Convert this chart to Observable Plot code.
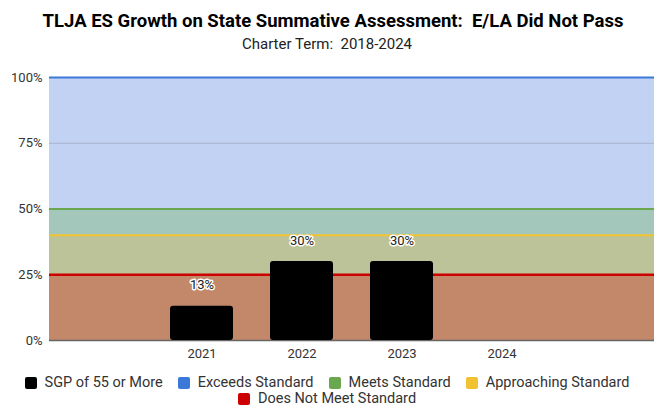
<!DOCTYPE html>
<html>
<head>
<meta charset="utf-8">
<script src="https://cdn.jsdelivr.net/npm/d3@7"></script>
<script src="https://cdn.jsdelivr.net/npm/@observablehq/plot@0.6"></script>
<style>
  body { margin: 0; background: #fff; font-family: Roboto, "Noto Sans", sans-serif; }
  #wrap { width: 654px; }
  #title { text-align: center; font-weight: bold; font-size: 18.5px; color: #000; white-space: pre; height: 22px; padding-top: 10px; padding-left: 12px; line-height: 22px; }
  #subtitle { text-align: center; font-size: 15px; color: #222; white-space: pre; height: 24px; line-height: 24px; }
  #legend { display: flex; flex-wrap: wrap; justify-content: center; column-gap: 15px; row-gap: 0px; font-size: 14.5px; color: #333; width: 646px; margin: 3px auto 0; line-height: 16px; }
  .item { display: flex; align-items: center; gap: 8px; white-space: nowrap; }
  .sw { width: 12px; height: 12px; border-radius: 2px; display: inline-block; }
</style>
</head>
<body>
<div id="wrap">
  <div id="title"></div>
  <div id="subtitle"></div>
  <div id="chart"></div>
  <div id="legend"></div>
</div>
<script>
const title = "TLJA ES Growth on State Summative Assessment:  E/LA Did Not Pass";
const subtitle = "Charter Term:  2018-2024";
const years = [" ", "2021", "2022", "2023", "2024", "  "];
const barYears = ["2021", "2022", "2023"];
const barValues = [13, 30, 30];
const yTicks = [0, 25, 50, 75, 100];
const bandNames = ["Does Not Meet Standard", "Approaching Standard", "Meets Standard", "Exceeds Standard"];
const bandLow = [0, 25, 40, 50];
const bandHigh = [25, 40, 50, 100];
const bandFills = ["#c3876a", "#bcc398", "#a3c8bb", "#c2d2f2"];
const lineValues = [25, 40, 50, 100];
const lineColors = ["#cc0000", "#f1c232", "#6aa84f", "#3c78d8"];
const legendNames = ["SGP of 55 or More", "Exceeds Standard", "Meets Standard", "Approaching Standard", "Does Not Meet Standard"];
const legendColors = ["#000000", "#3c78d8", "#6aa84f", "#f1c232", "#cc0000"];

document.getElementById("title").textContent = title;
document.getElementById("subtitle").textContent = subtitle;

const bars = barYears.map((y, i) => ({year: y, value: barValues[i]}));
const bands = bandNames.map((n, i) => ({name: n, lo: bandLow[i], hi: bandHigh[i], fill: bandFills[i]}));
const lines = lineValues.map((v, i) => ({v, c: lineColors[i]}));

const chart = Plot.plot({
  width: 654,
  height: 316,
  marginTop: 21,
  marginBottom: 32,
  marginLeft: 49,
  marginRight: 0,
  style: {fontFamily: "Roboto, sans-serif", fontSize: "13px", color: "#333", background: "#fff"},
  x: {domain: years, paddingInner: 0.37, paddingOuter: 0.185, label: null, tickSize: 0, tickPadding: 8},
  y: {domain: [0, 100], ticks: yTicks, tickFormat: d => d + "%", label: null, tickSize: 0, tickPadding: 7},
  marks: [
    Plot.rect(bands, {y1: "lo", y2: "hi", fill: "fill"}),
    Plot.ruleY([75], {stroke: "#a5b2cf", strokeWidth: 1}),
    Plot.ruleY([0], {stroke: "#666", strokeWidth: 1.5}),
    Plot.ruleY(lines, {y: "v", stroke: "c", strokeWidth: d => d.v === 25 ? 2.5 : 2}),
    Plot.barY(bars, {x: "year", y: "value", fill: "#000", rx: 3}),
    Plot.text(bars, {x: "year", y: "value", text: d => d.value + "%", dy: -21, fill: "#222", stroke: "#fff", strokeWidth: 3, fontSize: 13}),
    Plot.axisY({ticks: yTicks, tickFormat: d => d + "%", tickSize: 0, tickPadding: 7, fill: "#333", label: null}),
    Plot.axisX({tickSize: 0, tickPadding: 8, fill: "#333", label: null})
  ]
});
document.getElementById("chart").appendChild(chart);

const legend = document.getElementById("legend");
legendNames.forEach((n, i) => {
  const it = document.createElement("div");
  it.className = "item";
  const sw = document.createElement("span");
  sw.className = "sw";
  sw.style.background = legendColors[i];
  const t = document.createElement("span");
  t.textContent = n;
  it.appendChild(sw); it.appendChild(t);
  legend.appendChild(it);
});
</script>
</body>
</html>
